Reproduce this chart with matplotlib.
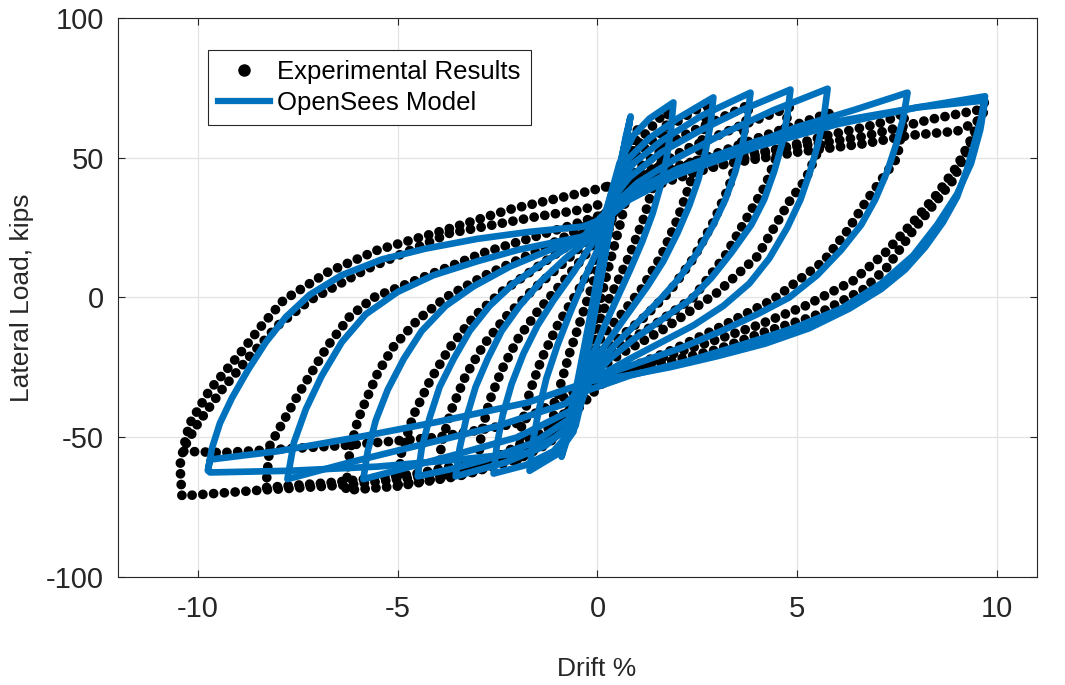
import numpy as np
import matplotlib.pyplot as plt
from matplotlib.lines import Line2D

plt.rcParams['font.family'] = ['Liberation Sans', 'DejaVu Sans']
plt.rcParams['axes.unicode_minus'] = False

# Experimental hysteresis, one list of (drift %, load kips) per cycle
exp_c1 = [(0, 0), (0.3, 25), (0.6, 45), (1.0, 60), (0.85, 45), (0.6, 28), (0.3, 12), (0, -5),
          (-0.4, -30), (-0.8, -43), (-1.2, -50), (-1.0, -35), (-0.7, -20), (-0.35, -5), (0, 10), (0.4, 30)]
exp_c2 = [(0.4, 30), (0.7, 45), (1.1, 57), (1.8, 68), (1.65, 55), (1.4, 40), (1.15, 28), (0.8, 15),
          (0.45, 4), (0.1, -6), (-0.1, -20), (-0.5, -38), (-1.1, -50), (-2.0, -58), (-1.9, -46),
          (-1.7, -34), (-1.4, -22), (-1.0, -10), (-0.5, 2), (0, 15), (0.3, 30)]
exp_c3 = [(0.3, 30), (0.8, 48), (1.5, 58), (2.1, 64), (2.8, 70), (2.6, 55), (2.3, 40), (2.0, 28),
          (1.6, 15), (1.1, 3), (0.6, -6), (0.1, -14), (-0.2, -24), (-0.6, -40), (-1.3, -51),
          (-2.1, -56.5), (-3.0, -60), (-2.9, -48), (-2.7, -37), (-2.4, -26), (-2.0, -15), (-1.5, -5),
          (-0.9, 5), (-0.2, 17), (0.3, 32)]
exp_c4 = [(0.3, 32), (1.0, 46), (2.0, 57), (2.9, 63), (3.8, 69), (3.6, 55), (3.3, 40), (2.9, 27),
          (2.4, 14), (1.8, 2), (1.1, -8), (0.4, -16), (0, -20), (-0.2, -26), (-0.7, -43), (-1.6, -54),
          (-2.8, -60), (-4.0, -64), (-3.9, -52), (-3.65, -40), (-3.3, -28), (-2.85, -17), (-2.3, -7),
          (-1.6, 3), (-0.8, 13), (0, 24), (0.2, 30)]
exp_c5 = [(0.2, 30), (1.0, 43), (2.2, 53), (3.5, 61), (4.8, 68), (4.6, 55), (4.2, 40), (3.8, 30),
          (3.2, 15), (2.4, 0), (1.4, -10), (0.5, -18), (0, -23), (-0.3, -28), (-0.8, -45), (-1.8, -56),
          (-3.2, -63), (-5.0, -67), (-4.9, -55), (-4.6, -42), (-4.2, -30), (-3.7, -18), (-3.1, -7),
          (-2.4, 2), (-1.5, 11), (-0.6, 20), (0.2, 30)]
exp_c6 = [(0.2, 30), (1.0, 40), (2.5, 49), (4.0, 57), (5.8, 66), (5.6, 55), (5.2, 42), (4.83, 35),
          (4.0, 14.7), (3.0, 1.8), (1.65, -11.4), (0.6, -20), (0, -26), (-0.3, -30), (-0.9, -47),
          (-2.0, -58), (-3.5, -64), (-5.0, -67.5), (-6.3, -69), (-6.2, -55), (-6.0, -44), (-5.86, -39),
          (-5.5, -27), (-5.1, -17.5), (-4.5, -8), (-3.8, 0), (-2.8, 8), (-1.6, 16), (-0.5, 24), (0.2, 30)]
exp_c7 = [(0.2, 30), (1.0, 38), (2.5, 45), (4.0, 51), (5.76, 58), (7.0, 62), (7.7, 66), (7.5, 50),
          (6.75, 35), (6.26, 24), (5.66, 13), (4.4, -0.7), (3.15, -10), (1.9, -18.6), (1.0, -24),
          (0.2, -28), (-0.3, -30), (-1.0, -45), (-2.5, -57), (-4.5, -63), (-6.5, -66), (-8.3, -68),
          (-8.2, -53), (-7.5, -35), (-6.76, -17.5), (-6.2, -6.8), (-5.6, 0), (-4.5, 6.4), (-2.85, 16),
          (-0.75, 25.4), (0.2, 30)]
exp_c8 = [(0.2, 30), (1.2, 40), (2.5, 46), (5.0, 52), (6.66, 55), (7.8, 58), (9.0, 59.5), (9.5, 63),
          (9.7, 68), (9.5, 60), (9.26, 53), (8.9, 42), (8.4, 33), (7.9, 24), (7.26, 11), (6.66, 2.9),
          (5.4, -6.8), (4.15, -12.5), (3.0, -18.6), (2.33, -21), (1.2, -25), (0.3, -28), (-0.5, -40),
          (-1.2, -52), (-2.0, -58), (-3.7, -63), (-6.2, -67), (-8.5, -69), (-10.4, -71), (-10.45, -60),
          (-10.3, -50), (-10.2, -45), (-9.7, -33), (-9.0, -21), (-8.4, -10), (-7.86, -1), (-6.76, 9),
          (-5.5, 17), (-3.85, 24), (-2.2, 31.5), (-0.35, 37.6), (0.25, 39.7)]
exp_c9 = [(0.25, 39.7), (1.2, 44), (2.5, 49), (5.0, 54), (6.66, 57.6), (8.33, 63.7), (9.5, 67),
          (9.7, 70), (9.4, 58), (9.0, 47), (8.5, 37), (7.9, 27), (7.2, 16), (6.4, 6), (5.2, -3),
          (4.0, -10), (2.8, -16), (1.5, -22), (0.3, -30), (-0.5, -33), (-2.0, -45), (-4.0, -50),
          (-6.4, -53), (-9.4, -55.5), (-10.4, -55), (-10.0, -45), (-9.4, -33), (-8.7, -21), (-8.0, -10),
          (-7.2, -1), (-5.8, 10), (-3.7, 23), (-1.5, 29), (-0.35, 31.5), (0.2, 34)]

# OpenSees model response, one list per cycle
model_c1 = [(0, 0), (0.3, 24), (0.55, 45), (0.7, 57), (0.83, 64.8), (0.65, 52), (0.4, 33), (0.15, 12),
            (-0.15, -12), (-0.45, -35), (-0.7, -48), (-0.9, -57), (-0.75, -46), (-0.5, -30), (-0.2, -8),
            (0.1, 15), (0.35, 33), (0.6, 50), (0.8, 62)]
model_c2 = [(0.1, 22), (0.3, 35), (0.55, 48), (0.9, 58), (1.3, 64), (1.9, 69.8), (1.84, 60), (1.73, 50),
            (1.58, 40), (1.38, 30), (1.12, 20), (0.82, 10), (0.5, 0), (0.18, -10), (-0.1, -20),
            (-0.35, -31), (-0.6, -48), (-1.0, -56), (-1.7, -62), (-1.62, -52), (-1.48, -41), (-1.28, -29),
            (-1.0, -17), (-0.7, -6), (-0.35, 6), (0, 17), (0.15, 28)]
model_c3 = [(0.15, 28), (0.4, 40), (0.8, 50), (1.3, 57), (2.0, 64), (2.9, 71.6), (2.83, 62), (2.7, 52),
            (2.52, 42), (2.3, 33), (2.0, 23), (1.65, 13), (1.25, 4), (0.8, -5), (0.35, -14), (-0.05, -22),
            (-0.3, -31), (-0.55, -46), (-1.1, -55), (-1.8, -60), (-2.6, -63), (-2.52, -53), (-2.37, -42),
            (-2.15, -31), (-1.85, -20), (-1.5, -10), (-1.1, -1), (-0.6, 9), (-0.15, 19), (0.1, 26)]
model_c4 = [(0.1, 26), (0.4, 38), (0.9, 48), (1.6, 56), (2.6, 65), (3.83, 73.3), (3.75, 64), (3.62, 54),
            (3.45, 45), (3.2, 35), (2.9, 26), (2.5, 16), (2.05, 7), (1.55, -1), (1.0, -9), (0.5, -16),
            (0.05, -23), (-0.25, -31), (-0.55, -44), (-1.3, -53), (-2.3, -59), (-3.55, -64), (-3.45, -54),
            (-3.28, -43), (-3.05, -32), (-2.75, -22), (-2.4, -12), (-1.95, -3), (-1.4, 6), (-0.8, 14),
            (-0.2, 21), (0, 24)]
model_c5 = [(0, 24), (0.3, 34), (0.8, 43), (1.6, 52), (2.6, 60), (3.6, 67), (4.83, 74.4), (4.75, 65),
            (4.62, 55), (4.42, 45), (4.17, 35), (3.85, 26), (3.35, 16), (2.85, 7), (2.3, -1), (1.6, -8),
            (0.9, -15), (0.3, -22), (-0.2, -30), (-0.55, -42), (-1.6, -52), (-2.8, -58), (-3.7, -61.5),
            (-4.5, -64), (-4.4, -54), (-4.2, -43), (-3.95, -32), (-3.6, -22), (-3.2, -12), (-2.7, -3),
            (-2.1, 5), (-1.3, 13), (-0.5, 20), (0, 24)]
model_c6 = [(0, 24), (0.4, 33), (1.0, 41), (2.0, 50), (3.2, 59), (4.4, 67), (5.76, 74.7), (5.67, 65),
            (5.52, 55), (5.32, 45), (5.08, 35), (4.75, 25), (4.3, 14), (3.8, 5), (3.15, -3), (2.4, -10),
            (1.6, -16), (0.8, -22), (-0.2, -30), (-0.6, -40), (-2.0, -50), (-3.5, -56), (-4.8, -61),
            (-5.86, -65), (-5.75, -55), (-5.55, -44), (-5.25, -33), (-4.85, -22), (-4.4, -12), (-3.8, -3),
            (-3.1, 4), (-2.2, 11), (-1.2, 17), (0, 24)]
model_c7 = [(0, 24), (0.3, 29), (0.8, 35), (2.0, 44), (3.5, 53), (5.0, 61), (6.4, 67), (7.76, 73.3),
            (7.65, 64), (7.48, 55), (7.25, 45), (6.95, 35), (6.6, 26), (6.1, 17), (5.5, 8), (4.8, 0),
            (4.0, -6), (3.1, -12), (2.1, -18), (1.1, -23), (0.3, -27), (-0.2, -30), (-0.8, -38),
            (-2.5, -46), (-4.5, -53), (-6.2, -59), (-7.76, -65), (-7.6, -52), (-7.3, -40), (-6.9, -28),
            (-6.4, -16), (-5.8, -6), (-5.0, 2), (-4.1, 8), (-3.0, 13), (-2.0, 17), (-1.0, 20), (-0.35, 21.8)]
model_c8 = [(-0.35, 21.8), (0.1, 29), (0.6, 35), (2.0, 44), (4.0, 54), (6.0, 62), (8.0, 68), (9.7, 72),
            (9.6, 64), (9.45, 56), (9.25, 46), (9.0, 36), (8.65, 27), (8.2, 18), (7.7, 10), (7.1, 3),
            (6.3, -4), (5.3, -11), (4.2, -16.5), (3.0, -21), (1.8, -25), (0.7, -28), (-0.2, -30),
            (-1.75, -37.6), (-4.0, -44.5), (-6.0, -50), (-8.0, -55), (-9.7, -58), (-9.75, -62), (-9.65, -54),
            (-9.45, -45), (-9.15, -36), (-8.75, -26), (-8.3, -16), (-7.8, -7), (-7.2, 1), (-6.4, 8),
            (-5.4, 13.6), (-4.3, 17.5), (-3.0, 21), (-1.7, 23.5), (-0.35, 25.4), (0.1, 28)]
model_c9 = [(0.1, 28), (0.6, 36), (2.0, 46), (4.0, 56), (6.0, 63), (8.0, 68), (9.7, 70.5), (9.58, 60),
            (9.35, 48), (9.0, 37), (8.5, 26), (7.9, 15), (7.1, 5), (6.1, -4), (4.9, -11), (3.6, -17),
            (2.2, -23), (0.8, -28), (-0.4, -34), (-0.8, -48), (-1.75, -55.5), (-3.5, -58), (-5.5, -60.5),
            (-7.7, -62), (-9.7, -62.6)]

exp_cycles = [exp_c1, exp_c2, exp_c3, exp_c4, exp_c5, exp_c6, exp_c7, exp_c8, exp_c9]
model_cycles = [model_c1, model_c2, model_c3, model_c4, model_c5, model_c6, model_c7, model_c8, model_c9]

x_ticks = [-10, -5, 0, 5, 10]
y_ticks = [-100, -50, 0, 50, 100]

blue = '#0072BD'
dark = '#262626'

fig = plt.figure(figsize=(10.65, 6.85), dpi=100)
ax = fig.add_axes([0.1108, 0.1577, 0.8629, 0.816])

for cyc in exp_cycles:
    pts = np.array(cyc)
    # dense dotted stroke, reads like closely spaced sample markers
    ax.plot(pts[:, 0], pts[:, 1], color='k', lw=7, linestyle=(0, (0.01, 1.1)),
            dash_capstyle='round', solid_joinstyle='round', zorder=2)

for cyc in model_cycles:
    pts = np.array(cyc)
    ax.plot(pts[:, 0], pts[:, 1], color=blue, lw=4.8, solid_joinstyle='round',
            solid_capstyle='round', zorder=3)

ax.set_xlim(-12, 11)
ax.set_ylim(-100, 100)
ax.set_xticks(x_ticks)
ax.set_yticks(y_ticks)
ax.grid(True, color='#e3e3e3', lw=0.9, zorder=0)
ax.set_axisbelow(True)
ax.tick_params(direction='in', length=5, width=0.8, colors=dark, labelsize=21,
               top=True, right=True)
ax.tick_params(axis='x', pad=13)
ax.tick_params(axis='y', pad=10)
for sp in ax.spines.values():
    sp.set_color(dark)
    sp.set_linewidth(0.8)

fig.text(597 / 1065, 1 - 669 / 685, 'Drift %', fontsize=19, color=dark, ha='center', va='center')
fig.text(22 / 1065, 1 - 298 / 685, 'Lateral Load, kips', fontsize=19, color=dark,
         rotation=90, ha='center', va='center')

handles = [
    Line2D([], [], color='k', marker='o', markersize=8, linestyle='none'),
    Line2D([], [], color=blue, lw=4.5),
]
leg = ax.legend(handles, ['Experimental Results', 'OpenSees Model'], loc='upper left',
                bbox_to_anchor=(0.098, 0.943), borderaxespad=0, fontsize=18.5,
                frameon=True, fancybox=False, framealpha=1, edgecolor=dark,
                handlelength=2.0, handletextpad=0.3, borderpad=0.4, labelspacing=0.25)
leg.get_frame().set_linewidth(0.8)

fig.savefig('out.png', dpi=100)
